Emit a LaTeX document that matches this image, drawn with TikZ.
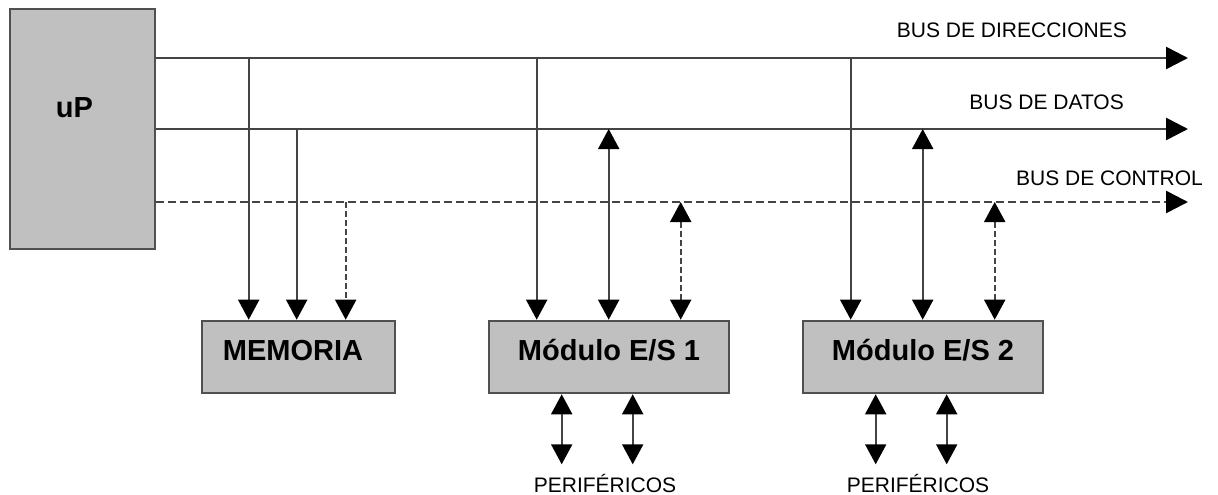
\documentclass[tikz,border=0pt]{standalone}
\usepackage{fontspec}
\setmainfont{Liberation Sans}
\usetikzlibrary{arrows.meta}
\definecolor{boxfill}{HTML}{C0C0C0}
\definecolor{boxline}{HTML}{505050}
\definecolor{busline}{HTML}{444444}
\begin{document}
\begin{tikzpicture}[x=1pt,y=-1pt,
  blk/.style={draw=boxline, line width=2.6pt, fill=boxfill, inner sep=0pt,
    font=\fontsize{29}{29}\selectfont\bfseries},
  modblk/.style={blk, minimum height=72pt, text height=20pt, text depth=14pt},
  bus/.style={draw=busline, line width=2.6pt, -{Triangle[length=22pt,width=22pt,color=black]}},
  ctl/.style={dash pattern=on 8pt off 4pt},
  vctl/.style={dash pattern=on 6pt off 3pt},
  tap/.style={draw=busline, line width=2pt},
  tipd/.tip={Triangle[length=20pt,width=21pt,color=black]},
  lbl/.style={font=\fontsize{21}{21}\selectfont, inner sep=0pt},
]
\useasboundingbox (0,0) rectangle (1218,495);

% processor and the three blocks hanging from the buses
\node[blk, minimum width=145pt, minimum height=240pt, text height=20pt, text depth=44pt]
  (up) at (82.5,129) {\hspace*{-16pt}uP};
\node[modblk, minimum width=193pt] (mem) at (298.5,357) {\hspace*{-11pt}MEMORIA};
\node[modblk, minimum width=240pt] (m1) at (609,357) {Módulo E/S 1};
\node[modblk, minimum width=240pt] (m2) at (923,357) {Módulo E/S 2};

% bus ends
\coordinate (addrEnd) at (1188,58);
\coordinate (dataEnd) at (1188,129);
\coordinate (ctlEnd) at (1188,202);

\draw[bus] (up.east |- addrEnd) -- (addrEnd);
\draw[bus] (up.east |- dataEnd) -- (dataEnd);
\draw[bus, ctl] (up.east |- ctlEnd) -- (ctlEnd);

\node[lbl, anchor=base east] (addrLbl) at (1127,38) {BUS DE DIRECCIONES};
\node[lbl, anchor=base east] (dataLbl) at (1124,110) {BUS DE DATOS};
\node[lbl, anchor=base east] (ctlLbl) at (1203,185) {BUS DE CONTROL};

% taps into the memory
\coordinate (memA) at ([xshift=48pt]mem.north west);
\coordinate (memD) at ([xshift=96pt]mem.north west);
\coordinate (memC) at ([xshift=145pt]mem.north west);
\draw[tap, -tipd] (memA |- addrEnd) -- (memA);
\draw[tap, -tipd] (memD |- dataEnd) -- (memD);
\draw[tap, vctl, -tipd] (memC |- ctlEnd) -- (memC);

% taps into the I/O modules
\foreach \m in {m1,m2}{
  \coordinate (\m A) at ([xshift=49pt]\m.north west);
  \coordinate (\m D) at ([xshift=121pt]\m.north west);
  \coordinate (\m C) at ([xshift=193pt]\m.north west);
  \draw[tap, -tipd] (\m A |- addrEnd) -- (\m A);
  \draw[tap, tipd-tipd] (\m D |- dataEnd) -- (\m D);
  \draw[tap, vctl, tipd-tipd] (\m C |- ctlEnd) -- (\m C);
  \draw[tap, tipd-tipd] ([xshift=74pt]\m.south west) -- ++(0,70);
  \draw[tap, tipd-tipd] ([xshift=145pt]\m.south west) -- ++(0,70);
}

% peripheral labels under the I/O modules
\node[lbl, anchor=base] (per1) at (605,492) {PERIFÉRICOS};
\node[lbl, anchor=base] (per2) at (918,492) {PERIFÉRICOS};
\end{tikzpicture}
\end{document}
